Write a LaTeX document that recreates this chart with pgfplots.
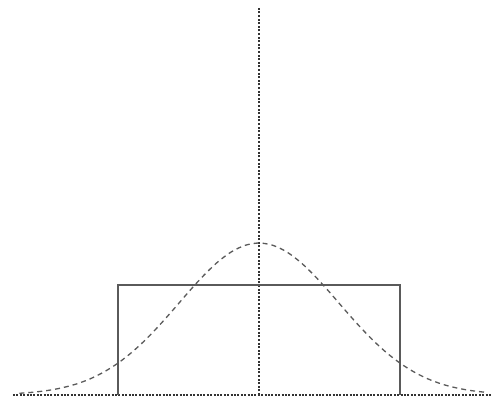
\documentclass[border=0pt]{standalone}
\usepackage{pgfplots}
\pgfplotsset{compat=1.18}
\definecolor{linegray}{HTML}{5a5a5a}
\definecolor{axisgray}{HTML}{333333}
\begin{document}
\begin{tikzpicture}
\begin{axis}[
    hide axis,
    scale only axis,
    width=494pt, height=400pt,
    xmin=-1.837, xmax=1.667,
    ymin=-5, ymax=395,
    clip=false,
]
% invisible frame to fix page size
\path (axis cs:-1.837,-5) rectangle (axis cs:1.667,395);

% axes drawn as dotted lines
\addplot[axisgray, line width=1.4pt, dash pattern=on 2pt off 1.4pt]
    coordinates {(-1.745,0) (1.645,0)};
\addplot[axisgray, line width=1.4pt, dash pattern=on 2pt off 1.6pt]
    coordinates {(0,0) (0,387)};

% uniform (rectangle)
\addplot[linegray, line width=1.3pt]
    coordinates {(-1,0) (-1,110) (1,110) (1,0)};

% normal curve (dashed)
\addplot[linegray, line width=1.3pt, dash pattern=on 5pt off 4pt, smooth]
    coordinates {
    (-1.7,1.7) (-1.6,2.8) (-1.5,4.5) (-1.4,7.1) (-1.3,10.8) (-1.2,16.0)
    (-1.1,23.0) (-1.0,31.9) (-0.9,42.9) (-0.8,55.9) (-0.7,70.7) (-0.6,86.6)
    (-0.5,102.9) (-0.4,118.4) (-0.3,132.1) (-0.2,142.8) (-0.1,149.6) (0,152)
    (0.1,149.6) (0.2,142.8) (0.3,132.1) (0.4,118.4) (0.5,102.9) (0.6,86.6)
    (0.7,70.7) (0.8,55.9) (0.9,42.9) (1.0,31.9) (1.1,23.0) (1.2,16.0)
    (1.3,10.8) (1.4,7.1) (1.5,4.5) (1.6,2.8)};
\end{axis}
\end{tikzpicture}
\end{document}
